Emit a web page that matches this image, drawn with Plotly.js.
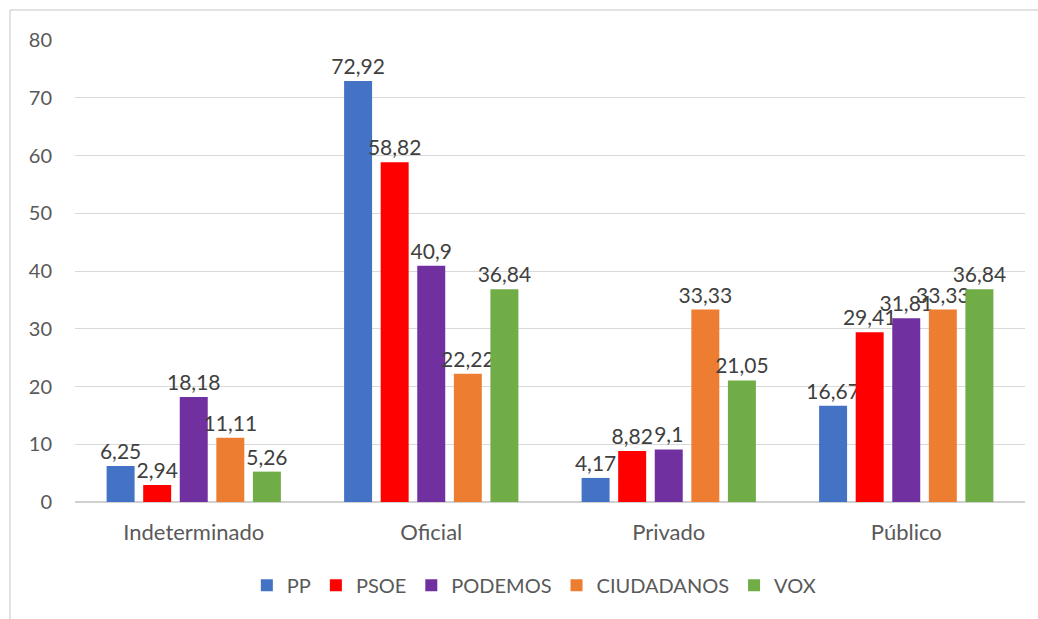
<!DOCTYPE html>
<html>
<head>
<meta charset="utf-8">
<script src="https://cdn.plot.ly/plotly-3.0.1.min.js"></script>
<style>html,body{margin:0;padding:0;background:#fff;}#chart{width:1038px;height:619px;}</style>
</head>
<body>
<div id="chart"></div>
<script>
const categories = ["Indeterminado", "Oficial", "Privado", "Público"];
const seriesNames = ["PP", "PSOE", "PODEMOS", "CIUDADANOS", "VOX"];
const ppValues = [6.25, 72.92, 4.17, 16.67];
const psoeValues = [2.94, 58.82, 8.82, 29.41];
const podemosValues = [18.18, 40.9, 9.1, 31.81];
const ciudadanosValues = [11.11, 22.22, 33.33, 33.33];
const voxValues = [5.26, 36.84, 21.05, 36.84];
const yTicks = [0, 10, 20, 30, 40, 50, 60, 70, 80];

const allValues = [ppValues, psoeValues, podemosValues, ciudadanosValues, voxValues];
const colors = ["#4472C4", "#FF0000", "#7030A0", "#ED7D31", "#70AD47"];
const fmt = v => String(v).replace('.', ',');
const FONT = 'Lato, "Open Sans", sans-serif';

const traces = seriesNames.map((name, i) => ({
  type: 'bar',
  name: name,
  x: categories,
  y: allValues[i],
  text: allValues[i].map(fmt),
  textposition: 'outside',
  cliponaxis: false,
  constraintext: 'none',
  textfont: {family: FONT, size: 21, color: '#404040'},
  marker: {color: colors[i]},
  hoverinfo: 'x+y+name'
}));

const layout = {
  width: 1038,
  height: 619,
  margin: {l: 75, r: 13, t: 40, b: 117},
  paper_bgcolor: '#ffffff',
  plot_bgcolor: '#ffffff',
  barmode: 'group',
  bargap: 0.23,
  bargroupgap: 0.235,
  uniformtext: {mode: 'show', minsize: 21},
  font: {family: FONT, size: 20, color: '#595959'},
  showlegend: true,
  legend: {
    orientation: 'h', x: 0.483, xanchor: 'center', y: -0.18, yanchor: 'middle',
    font: {family: FONT, size: 20, color: '#595959'}, itemwidth: 30, traceorder: 'normal'
  },
  xaxis: {
    type: 'category',
    showgrid: false,
    showline: false,
    zeroline: false,
    ticks: '',
    ticklabelstandoff: 15,
    tickfont: {family: FONT, size: 22, color: '#595959'}
  },
  yaxis: {
    range: [0, 80],
    tickvals: yTicks,
    ticktext: yTicks.map(String),
    showgrid: true,
    gridcolor: '#d9d9d9',
    gridwidth: 1,
    zeroline: true,
    zerolinecolor: '#d0d0d0',
    zerolinewidth: 2,
    showline: false,
    ticks: '',
    ticklabelstandoff: 22,
    tickfont: {family: FONT, size: 20, color: '#595959'}
  },
  shapes: [
    {type: 'line', xref: 'paper', yref: 'paper', x0: -0.0684, x1: 1.03, y0: 1.0649, y1: 1.0649, line: {color: '#d9d9d9', width: 1.5}},
    {type: 'line', xref: 'paper', yref: 'paper', x0: -0.0684, x1: -0.0684, y0: 1.0649, y1: -0.26, line: {color: '#d9d9d9', width: 1.5}}
  ]
};

Plotly.newPlot('chart', traces, layout, {displayModeBar: false, staticPlot: true});
</script>
</body>
</html>
